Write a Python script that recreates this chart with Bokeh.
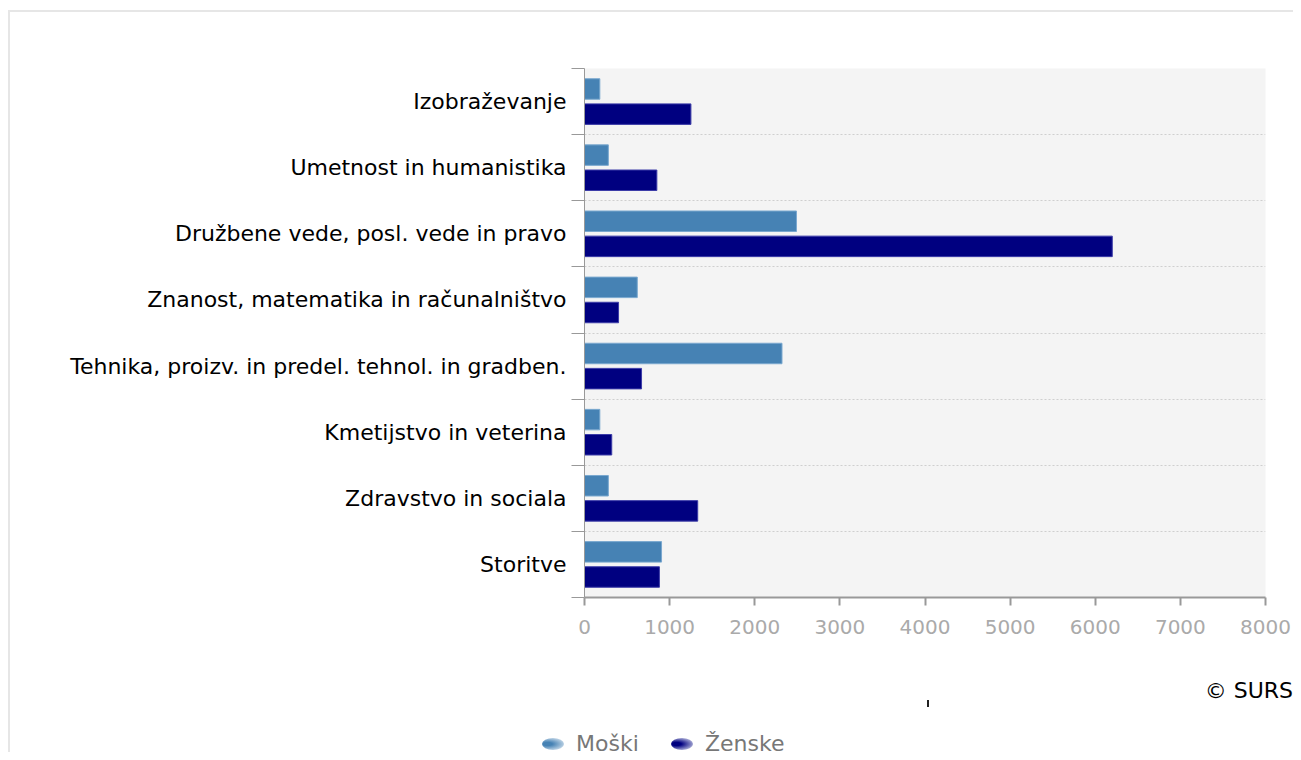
from bokeh.plotting import figure
from bokeh.models import Range1d, FixedTicker, ColumnDataSource, Div
from bokeh.layouts import column
from bokeh.embed import file_html
from bokeh.resources import INLINE

categories = ["Izobraževanje", "Umetnost in humanistika", "Družbene vede, posl. vede in pravo",
              "Znanost, matematika in računalništvo", "Tehnika, proizv. in predel. tehnol. in gradben.",
              "Kmetijstvo in veterina", "Zdravstvo in sociala", "Storitve"]
moski = [180, 280, 2490, 620, 2320, 180, 280, 905]
zenske = [1250, 850, 6200, 400, 670, 320, 1330, 880]
series_names = ["Moški", "Ženske"]
series_colors = ["#4682b4", "#000080"]
x_ticks = [0, 1000, 2000, 3000, 4000, 5000, 6000, 7000, 8000]
credit = "© SURS"

n = len(categories)
centers = [n - i - 0.5 for i in range(n)]
FONT = "DejaVu Sans"
W = 1293

p = figure(width=W, height=645, output_backend="svg", toolbar_location=None,
           x_range=Range1d(0, 8000), y_range=Range1d(0, n),
           min_border_left=584, min_border_right=28, min_border_top=68, min_border_bottom=48)
p.background_fill_color = "#f4f4f4"
p.border_fill_alpha = 0
p.outline_line_color = None

src = ColumnDataSource(dict(y=centers, m=moski, z=zenske,
                            ym=[c + 0.19 for c in centers], yz=[c - 0.19 for c in centers]))
p.hbar(y="ym", right="m", left=0, height=0.31, source=src, fill_color=series_colors[0], line_color="#7aa8cf")
p.hbar(y="yz", right="z", left=0, height=0.31, source=src, fill_color=series_colors[1], line_color="#3c3ca8")

# y axis
p.yaxis.ticker = FixedTicker(ticks=centers, minor_ticks=list(range(0, n + 1)))
p.yaxis.major_label_overrides = {c: categories[i] for i, c in enumerate(centers)}
p.yaxis.major_tick_out = 0
p.yaxis.major_tick_in = 0
p.yaxis.minor_tick_out = 13
p.yaxis.minor_tick_in = 0
p.yaxis.minor_tick_line_color = "#999999"
p.yaxis.axis_line_color = "#999999"
p.yaxis.major_label_standoff = 5
p.yaxis.major_label_text_font = FONT
p.yaxis.major_label_text_font_size = "22px"
p.yaxis.major_label_text_color = "black"

# x axis
p.xaxis.ticker = FixedTicker(ticks=x_ticks)
p.xaxis.major_tick_out = 8
p.xaxis.major_tick_in = 0
p.xaxis.minor_tick_line_color = None
p.xaxis.axis_line_color = "#999999"
p.xaxis.axis_line_width = 2
p.xaxis.major_tick_line_color = "#999999"
p.xaxis.major_tick_line_width = 2
p.xaxis.major_label_text_font = FONT
p.xaxis.major_label_text_font_size = "20px"
p.xaxis.major_label_text_color = "#aaaaaa"
p.xaxis.major_label_standoff = 14

p.xgrid.grid_line_color = None
p.ygrid.ticker = FixedTicker(ticks=list(range(1, n)))
p.ygrid.grid_line_color = "#cfcfcf"
p.ygrid.grid_line_dash = "2 2"

# footer: credit and legend
def swatch(left, color):
    return (f'<div style="position:absolute;left:{left}px;top:93px;width:22px;height:12px;'
            f'border-radius:50%;background:radial-gradient(ellipse at 25% 50%, {color} 0%, {color} 20%, '
            f'#f4f8fc 100%);"></div>')

footer_html = (
    f'<div style="position:relative;width:{W}px;height:107px;font-family:\'{FONT}\';">'
    f'<span style="position:absolute;right:0px;top:35px;font-size:22px;line-height:22px;'
    f'color:black;white-space:nowrap;">{credit}</span>'
    f'<div style="position:absolute;left:927px;top:55px;width:2px;height:7px;background:#222;"></div>'
    + swatch(542, series_colors[0])
    + f'<span style="position:absolute;left:576px;top:88px;font-size:22px;line-height:22px;'
      f'color:#777777;white-space:nowrap;">{series_names[0]}</span>'
    + swatch(671, series_colors[1])
    + f'<span style="position:absolute;left:705px;top:88px;font-size:22px;line-height:22px;'
      f'color:#777777;white-space:nowrap;">{series_names[1]}</span>'
    + '</div>'
)
footer = Div(text=footer_html, width=W, height=107, margin=0)

layout = column(p, footer, spacing=0)
layout.styles = {
    "background-color": "white",
    "background-image": "linear-gradient(#e6e6e6, #e6e6e6), linear-gradient(#e6e6e6, #e6e6e6)",
    "background-size": "100% 2px, 2px 100%",
    "background-position": "8px 10px, 8px 10px",
    "background-repeat": "no-repeat",
}
open("out.html", "w").write(file_html(layout, INLINE))
